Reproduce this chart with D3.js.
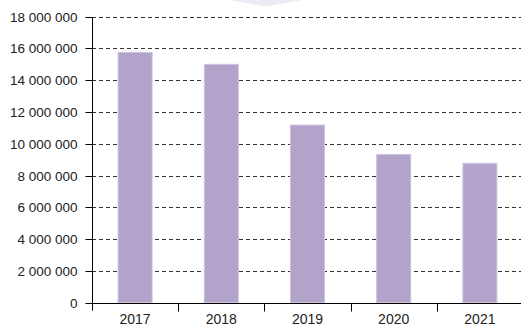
<!DOCTYPE html>
<html>
<head>
<meta charset="utf-8">
<script src="https://cdn.jsdelivr.net/npm/d3@7"></script>
<style>
html,body{margin:0;padding:0;background:#fff;}
svg{display:block;}
text{font-family:"Liberation Sans",Arial,Helvetica,sans-serif;fill:#222;}
</style>
</head>
<body>
<svg id="chart" width="521" height="324"></svg>
<script>
const categories = ["2017","2018","2019","2020","2021"];
const values = [15750000, 15000000, 11180000, 9330000, 8770000];
const yTicks = [0,2000000,4000000,6000000,8000000,10000000,12000000,14000000,16000000,18000000];

const svg = d3.select("#chart");
const W = 521, H = 324;
const mLeft = 92, mRight = 523, mTop = 16.7, mBottom = 302.7;

// decorative shape at top
svg.append("path")
  .attr("d", "M229,0 L302,0 L266,6.5 Z")
  .attr("fill", "#ecebf4");

const xb = d3.scaleBand().domain(categories).range([mLeft, mRight]);
const y = d3.scaleLinear().domain([0, 18000000]).range([mBottom, mTop]);

const fmt = d => d3.format(",")(d).replace(/,/g, " ");

// gridlines
svg.append("g").selectAll("line").data(yTicks.filter(d => d > 0)).join("line")
  .attr("x1", mLeft).attr("x2", W)
  .attr("y1", d => Math.round(y(d)) + 0.5).attr("y2", d => Math.round(y(d)) + 0.5)
  .attr("stroke", "#333").attr("stroke-width", 1).attr("stroke-dasharray", "4,3");

// bars
const bw = 34;
svg.append("g").selectAll("rect").data(values).join("rect")
  .attr("x", (d, i) => xb(categories[i]) + xb.bandwidth() / 2 - bw / 2)
  .attr("width", bw)
  .attr("y", d => y(d))
  .attr("height", d => mBottom - y(d))
  .attr("fill", "#b1a3c9")
  .attr("stroke", "#cdc3dd").attr("stroke-width", 1);

// y axis
const yAxis = d3.axisLeft(y).tickValues(yTicks).tickFormat(fmt).tickSize(7).tickPadding(8);
const gy = svg.append("g").attr("transform", `translate(${mLeft + 0.5},0)`).call(yAxis);
gy.select(".domain").remove();
gy.selectAll(".tick").attr("transform", d => `translate(0,${Math.round(y(d)) + 0.5})`);
gy.append("line").attr("x1", 0).attr("x2", 0).attr("y1", Math.round(mTop)).attr("y2", mBottom + 8).attr("stroke", "#000");
gy.selectAll(".tick line").attr("stroke", "#000");
gy.selectAll(".tick text").style("font-size", "13.5px").attr("fill", "#222");

// x axis
const gx = svg.append("g").attr("transform", `translate(0,${Math.round(mBottom) + 0.5})`);
gx.append("line").attr("x1", mLeft).attr("x2", W).attr("y1", 0).attr("y2", 0).attr("stroke", "#000");
gx.selectAll("line.sep").data(categories.slice(1)).join("line").attr("class", "sep")
  .attr("x1", d => Math.round(xb(d)) + 0.5).attr("x2", d => Math.round(xb(d)) + 0.5)
  .attr("y1", 0).attr("y2", 8).attr("stroke", "#000");
gx.selectAll("text").data(categories).join("text")
  .attr("x", d => xb(d) + xb.bandwidth() / 2)
  .attr("y", 20)
  .attr("text-anchor", "middle")
  .style("font-size", "14px")
  .text(d => d);
</script>
</body>
</html>
